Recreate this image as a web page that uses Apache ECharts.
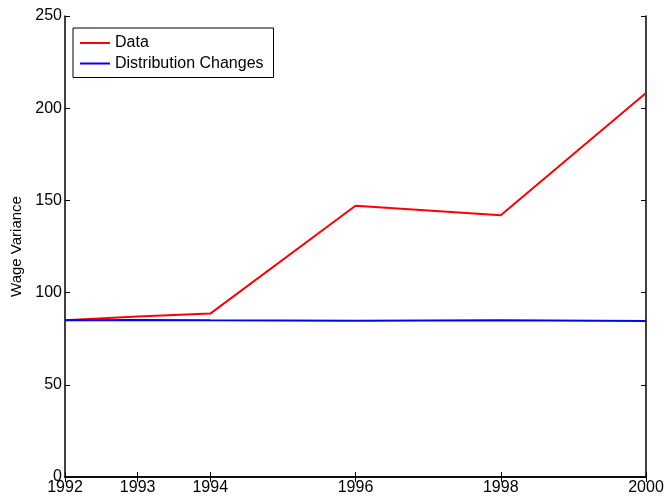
<!DOCTYPE html>
<html>
<head>
<meta charset="utf-8">
<script src="https://cdn.jsdelivr.net/npm/echarts@6/dist/echarts.min.js"></script>
<style>html,body{margin:0;padding:0;background:#fff}#c{width:667px;height:500px}</style>
</head>
<body>
<div id="c"></div>
<script>
const years = [1992, 1993, 1994, 1996, 1998, 2000];
const dataValues = [85.0, 87.0, 88.6, 147.1, 142.0, 208.2];
const distValues = [85.0, 85.2, 85.0, 84.8, 85.0, 84.6];
const xTicks = [1992, 1993, 1994, 1996, 1998, 2000];
const yTicks = [0, 50, 100, 150, 200, 250];
const seriesNames = ['Data', 'Distribution Changes'];
const yTitle = 'Wage Variance';

const font = 'Liberation Sans, Arial, Helvetica, sans-serif';
const chart = echarts.init(document.getElementById('c'), null, {renderer: 'canvas'});
const axLine = {show: true, lineStyle: {color: '#000', width: 1.5}};
const tickStyle = {show: true, inside: true, length: 5, lineStyle: {color: '#000', width: 1}};
chart.setOption({
  animation: false,
  backgroundColor: '#fff',
  grid: {left: 65, right: 21, top: 16, bottom: 23, containLabel: false},
  legend: {
    left: 73, top: 28, orient: 'vertical',
    data: seriesNames,
    icon: 'rect', itemWidth: 30, itemHeight: 2, itemGap: 2.5,
    padding: [6, 10, 5, 7],
    backgroundColor: '#fff', borderColor: '#000', borderWidth: 1, borderRadius: 0,
    textStyle: {fontFamily: font, fontSize: 16, color: '#000', lineHeight: 18, padding: [0, 0, 0, 0]}
  },
  xAxis: [{
    type: 'value', min: 1992, max: 2000, position: 'bottom',
    axisLine: axLine,
    axisTick: Object.assign({}, tickStyle, {customValues: xTicks}),
    axisLabel: {customValues: xTicks, formatter: v => String(v), fontFamily: font, fontSize: 16, color: '#000', margin: 3},
    splitLine: {show: false}
  }, {
    type: 'value', min: 1992, max: 2000, position: 'top',
    axisLine: axLine,
    axisTick: Object.assign({}, tickStyle, {customValues: xTicks}),
    axisLabel: {show: false},
    splitLine: {show: false}
  }],
  yAxis: [{
    type: 'value', min: 0, max: 250, interval: 50, position: 'left',
    name: yTitle, nameLocation: 'middle', nameGap: 30, nameRotate: 90,
    nameTextStyle: {fontFamily: font, fontSize: 15, color: '#000'},
    axisLine: axLine,
    axisTick: Object.assign({}, tickStyle, {customValues: yTicks}),
    axisLabel: {customValues: yTicks, formatter: v => String(v), fontFamily: font, fontSize: 16, color: '#000', margin: 3},
    splitLine: {show: false}
  }, {
    type: 'value', min: 0, max: 250, interval: 50, position: 'right',
    axisLine: axLine,
    axisTick: Object.assign({}, tickStyle, {customValues: yTicks}),
    axisLabel: {show: false},
    splitLine: {show: false}
  }],
  series: [{
    name: seriesNames[0], type: 'line', showSymbol: false, symbol: 'none',
    color: '#ff0000', lineStyle: {color: '#ff0000', width: 2},
    data: years.map((y, i) => [y, dataValues[i]])
  }, {
    name: seriesNames[1], type: 'line', showSymbol: false, symbol: 'none',
    color: '#0000ff', lineStyle: {color: '#0000ff', width: 2},
    data: years.map((y, i) => [y, distValues[i]])
  }]
});
</script>
</body>
</html>
